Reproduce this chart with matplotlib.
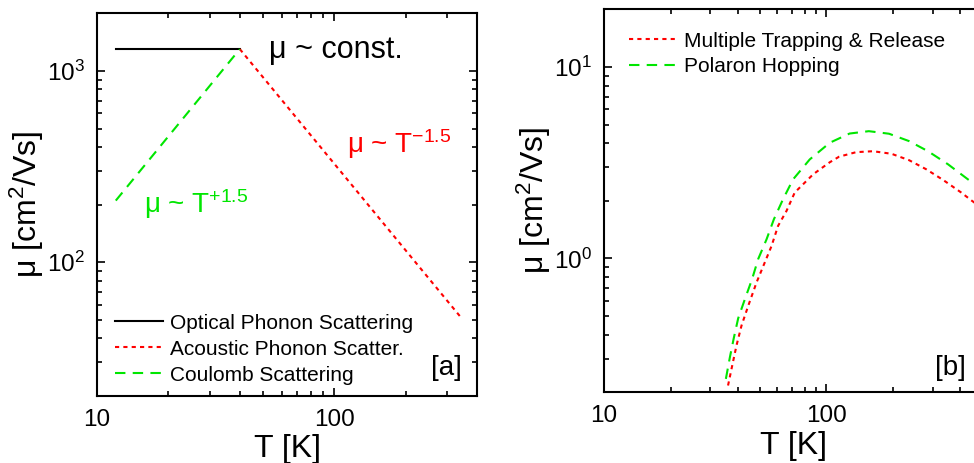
import numpy as np
import matplotlib
matplotlib.use('Agg')
import matplotlib.pyplot as plt
from matplotlib.ticker import LogLocator, FixedLocator, FixedFormatter, NullFormatter

plt.rcParams['font.family'] = ['Liberation Sans', 'DejaVu Sans']
plt.rcParams['mathtext.fontset'] = 'custom'
plt.rcParams['mathtext.rm'] = 'Liberation Sans'
plt.rcParams['mathtext.it'] = 'Liberation Sans:italic'
plt.rcParams['mathtext.bf'] = 'Liberation Sans:bold'

RED = '#ff0000'
GREEN = '#00e600'

# panel [a] : scattering limits (log-log straight lines)
T_opt = [12, 40]
mu_opt = [1300, 1300]
T_ac = [40, 340]
mu_ac = [1300, 52]
T_coul = [12, 40]
mu_coul = [210, 1300]
labels_a = ['Optical Phonon Scattering', 'Acoustic Phonon Scatter.', 'Coulomb Scattering']

# panel [b]
T_mtr = [36.1, 37.7, 39.4, 41.5, 44.5, 48.5, 52.8, 56.6, 60.6, 66.1, 72.0, 79.9, 87.1, 95,
         103.5, 114, 136, 162, 196, 235, 281, 336, 403, 448, 500]
mu_mtr = [0.217, 0.276, 0.351, 0.446, 0.566, 0.750, 0.953, 1.16, 1.48, 1.77, 2.21, 2.49, 2.75, 2.96,
          3.18, 3.40, 3.59, 3.63, 3.52, 3.26, 2.92, 2.56, 2.21, 2.01, 1.83]
T_pol = [35.3, 36.8, 38.3, 40.1, 43.0, 46.3, 49.3, 53.8, 58.0, 63.8, 70.8, 84.1,
         103.5, 127, 155, 191, 235, 286, 352, 432, 500]
mu_pol = [0.235, 0.305, 0.383, 0.487, 0.614, 0.780, 0.992, 1.26, 1.60, 2.04, 2.59, 3.29,
          4.02, 4.49, 4.62, 4.48, 4.10, 3.63, 3.10, 2.59, 2.30]
labels_b = ['Multiple Trapping & Release', 'Polaron Hopping']

W, H = 974, 463
fig = plt.figure(figsize=(W / 100, H / 100), dpi=100)

# axes boxes in pixels: left, top, right, bottom
ax1 = fig.add_axes([97 / W, 1 - 396 / H, (477 - 97) / W, (396 - 13.3) / H])
ax2 = fig.add_axes([604 / W, 1 - 392.3 / H, (982 - 604) / W, (392.3 - 9.3) / H])

lw = 1.5
dot = (2, 2)
dash = (5, 3.5)


def style_axes(ax, ymajor, ylabels):
    ax.set_xscale('log')
    ax.set_yscale('log')
    for s in ax.spines.values():
        s.set_linewidth(1.5)
    ax.tick_params(which='both', direction='in', top=True, right=True, width=1.2)
    ax.tick_params(which='major', length=6, labelsize=17.5, pad=9)
    ax.tick_params(which='minor', length=3.5)
    ax.xaxis.set_major_locator(FixedLocator([10, 100]))
    ax.xaxis.set_major_formatter(FixedFormatter(['10', '100']))
    ax.xaxis.set_minor_locator(LogLocator(base=10, subs=np.arange(2, 10)))
    ax.xaxis.set_minor_formatter(NullFormatter())
    ax.yaxis.set_major_locator(FixedLocator(ymajor))
    ax.yaxis.set_major_formatter(FixedFormatter(ylabels))
    ax.yaxis.set_minor_locator(LogLocator(base=10, subs=np.arange(2, 10)))
    ax.yaxis.set_minor_formatter(NullFormatter())
    ax.set_xlabel('T [K]', fontsize=23)
    ax.set_ylabel('μ [cm$^{2}$/Vs]', fontsize=23)
    ax.xaxis.set_label_coords(0.5, -0.1)
    ax.yaxis.set_label_coords(-0.135, 0.5)


# ---- panel a
ax1.plot(T_opt, mu_opt, color='black', lw=lw, label=labels_a[0])
ax1.plot(T_ac, mu_ac, color=RED, lw=lw, dashes=dot, label=labels_a[1])
ax1.plot(T_coul, mu_coul, color=GREEN, lw=lw, dashes=dash, label=labels_a[2])
ax1.set_xlim(10, 400)
ax1.set_ylim(20, 2000)
style_axes(ax1, [100, 1000], [r'$\mathregular{10^{2}}$', r'$\mathregular{10^{3}}$'])

ax1.text(0.453, 0.904, 'μ ~ const.', transform=ax1.transAxes, fontsize=22,
         ha='left', va='center')
ax1.text(0.658, 0.635, 'μ ~ T$^{-1.5}$', transform=ax1.transAxes, fontsize=20,
         color=RED, ha='left', va='baseline')
ax1.text(0.124, 0.479, 'μ ~ T$^{+1.5}$', transform=ax1.transAxes, fontsize=20,
         color=GREEN, ha='left', va='baseline')
ax1.text(0.96, 0.074, '[a]', transform=ax1.transAxes, fontsize=20, ha='right', va='center')

ax1.legend(loc='lower left', bbox_to_anchor=(0.047, 0.03), frameon=False, fontsize=15,
           handlelength=2.3, handletextpad=0.35, labelspacing=0.33,
           borderpad=0, borderaxespad=0)

# ---- panel b
ax2.plot(T_mtr, mu_mtr, color=RED, lw=lw, dashes=dot, label=labels_b[0])
ax2.plot(T_pol, mu_pol, color=GREEN, lw=lw, dashes=dash, label=labels_b[1])
ax2.set_xlim(10, 500)
ax2.set_ylim(0.2, 20)
style_axes(ax2, [1, 10], [r'$\mathregular{10^{0}}$', r'$\mathregular{10^{1}}$'])

ax2.text(0.876, 0.0634, '[b]', transform=ax2.transAxes, fontsize=20, ha='left', va='center')

ax2.legend(loc='upper left', bbox_to_anchor=(0.066, 0.942), frameon=False, fontsize=15,
           handlelength=2.3, handletextpad=0.35, labelspacing=0.33,
           borderpad=0, borderaxespad=0)

fig.savefig('out.png', dpi=100)
